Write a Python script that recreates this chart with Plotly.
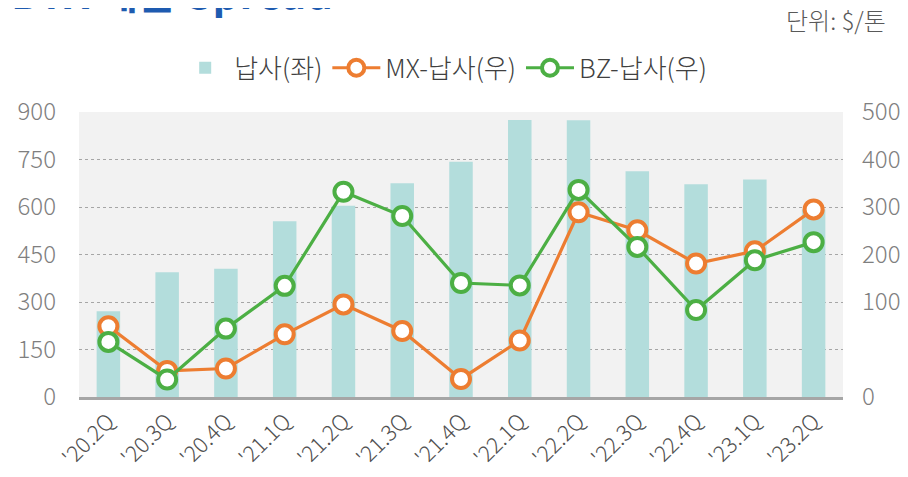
import plotly.graph_objects as go

categories = ["'20.2Q", "'20.3Q", "'20.4Q", "'21.1Q", "'21.2Q", "'21.3Q", "'21.4Q",
              "'22.1Q", "'22.2Q", "'22.3Q", "'22.4Q", "'23.1Q", "'23.2Q"]
naphtha = [271, 394, 405, 555, 604, 675, 743, 875, 874, 713, 672, 687, 592]
mx_spread = [49, -45, -40, 32, 95, 39, -62, 19, 289, 251, 181, 207, 295]
bz_spread = [16, -63, 44, 134, 332, 281, 140, 135, 336, 216, 83, 188, 226]

left_ticks = [0, 150, 300, 450, 600, 750, 900]
right_tickvals = [-100, 100, 200, 300, 400, 500]
right_ticktext = ["0", "100", "200", "300", "400", "500"]

FONT = "Noto Sans CJK KR"
ORANGE = "#ED7D31"
GREEN = "#4CAF44"
BAR = "#B3DDDC"

fig = go.Figure()
fig.add_trace(go.Bar(x=categories, y=naphtha, name="납사(좌)", marker_color=BAR,
                     marker_line_width=0, yaxis="y"))
fig.add_trace(go.Scatter(x=categories, y=mx_spread, name="MX-납사(우)", yaxis="y2",
                         mode="lines+markers",
                         line=dict(color=ORANGE, width=3.2),
                         marker=dict(size=18, color="white", line=dict(color=ORANGE, width=4))))
fig.add_trace(go.Scatter(x=categories, y=bz_spread, name="BZ-납사(우)", yaxis="y2",
                         mode="lines+markers",
                         line=dict(color=GREEN, width=3.2),
                         marker=dict(size=18, color="white", line=dict(color=GREEN, width=4))))

# page has an 8px body margin, so the figure is 900x469 and margins are reduced by 8
fig.update_layout(
    width=900, height=469,
    margin=dict(l=71, r=65, t=104, b=80, autoexpand=False),
    paper_bgcolor="white",
    plot_bgcolor="#F2F2F2",
    bargap=0.6,
    font=dict(family=FONT, color="#404040"),
    showlegend=True,
    legend=dict(orientation="h", x=0.478, xanchor="center", y=1.155, yanchor="middle",
                font=dict(size=26, color="#404040", family=FONT, weight=300),
                traceorder="normal", itemwidth=48, bgcolor="rgba(0,0,0,0)"),
    xaxis=dict(type="category", tickangle=-45, showgrid=False,
               showline=True, linecolor="#A6A6A6", linewidth=2.5,
               ticks="", automargin=False,
               tickfont=dict(size=22, color="#505050", family=FONT, weight=300),
               range=[-0.5, len(categories) - 0.5]),
    yaxis=dict(range=[0, 900], tickvals=left_ticks, showgrid=True,
               gridcolor="#A6A6A6", griddash="dot", gridwidth=1,
               zeroline=False, ticks="", ticklabelstandoff=22, automargin=False,
               tickfont=dict(size=24, color="#7F7F7F", family=FONT, weight=300)),
    yaxis2=dict(range=[-100, 500], overlaying="y", side="right",
                tickvals=right_tickvals, ticktext=right_ticktext,
                showgrid=False, zeroline=False, ticks="", ticklabelstandoff=18,
                automargin=False,
                tickfont=dict(size=24, color="#7F7F7F", family=FONT, weight=300)),
    annotations=[
        dict(text="<b>BTX 제품 Spread</b>", xref="paper", yref="paper",
             x=-0.092, y=1.311, xanchor="left", yanchor="bottom", showarrow=False,
             font=dict(size=42, color="#1E5BB0", family=FONT)),
        dict(text="단위: $/톤", xref="paper", yref="paper",
             x=1.059, y=1.325, xanchor="right", yanchor="middle", showarrow=False,
             font=dict(size=24, color="#595959", family=FONT, weight=300)),
    ],
)

fig.write_html("out.html")
